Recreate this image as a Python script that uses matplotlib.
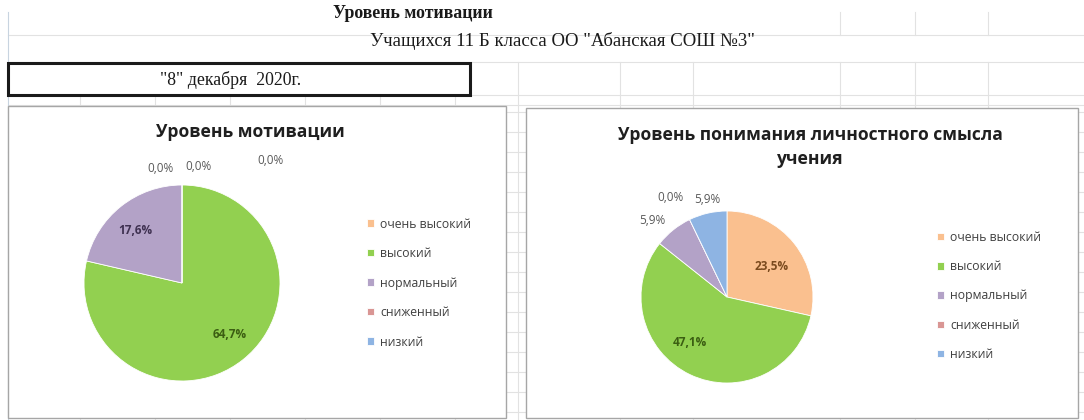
import matplotlib
matplotlib.use("Agg")
import matplotlib.pyplot as plt
from matplotlib.patches import Rectangle
from matplotlib.lines import Line2D

# ---------------- data ----------------
categories = ["очень высокий", "высокий", "нормальный", "сниженный", "низкий"]
motivation_values = [0.0, 64.7, 17.6, 0.0, 0.0]
meaning_values = [23.5, 47.1, 5.9, 0.0, 5.9]

sheet_title = "Уровень мотивации"
sheet_subtitle = "Учащихся 11 Б класса ОО \"Абанская СОШ №3\""
sheet_date = "\"8\" декабря  2020г."
chart1_title = "Уровень мотивации"
chart2_title = "Уровень понимания личностного смысла\nучения"

slice_colors = ["#FAC08F", "#92D050", "#B3A2C7", "#D99694", "#8EB4E3"]
inside_label_colors = ["#7A4A1E", "#3B5E12", "#3F3151", "#632523", "#17375E"]

W, H = 1084, 420
fig = plt.figure(figsize=(W / 100, H / 100), dpi=100)
fig.patch.set_facecolor("white")


def fx(x):
    return x / W


def fy(y):
    return 1 - y / H


def hline(x0, x1, y, color="#e2e2e2", lw=0.8, z=0):
    fig.add_artist(Line2D([fx(x0), fx(x1)], [fy(y), fy(y)], color=color, lw=lw, zorder=z))


def vline(x, y0, y1, color="#e2e2e2", lw=0.8, z=0):
    fig.add_artist(Line2D([fx(x), fx(x)], [fy(y0), fy(y1)], color=color, lw=lw, zorder=z))


# ---------------- spreadsheet grid ----------------
for y in [35, 62, 95, 105]:
    hline(8, W, y)
for y in range(112, 420, 20):
    hline(8, W, y)
vline(8, 12, 420, color="#c8d4e0")
for x in [840, 915, 988]:
    vline(x, 12, 35)
for x in [80, 155, 230, 305, 380, 455]:
    vline(x, 95, 420)
for x in [518, 620, 693, 840, 915, 988]:
    vline(x, 62, 420)

# header texts
serif = ["Liberation Serif", "DejaVu Serif"]
fig.text(fx(413), fy(14), sheet_title, family=serif, fontsize=12.8, fontweight="bold",
         ha="center", va="center", color="#1a1a1a")
fig.text(fx(562), fy(41), sheet_subtitle, family=serif, fontsize=13.5,
         ha="center", va="center", color="#1a1a1a")
fig.add_artist(Rectangle((fx(8), fy(95)), fx(470) - fx(8), fy(63) - fy(95),
                         transform=fig.transFigure, facecolor="white",
                         edgecolor="#1a1a1a", lw=2.2, zorder=2))
fig.text(fx(231), fy(80), sheet_date, family=serif, fontsize=12.8,
         ha="center", va="center", color="#1a1a1a", zorder=3)

# chart boxes
for (x0, y0, x1, y1) in [(8, 106, 506, 418), (526, 108, 1078, 418)]:
    fig.add_artist(Rectangle((fx(x0), fy(y1)), fx(x1) - fx(x0), fy(y0) - fy(y1),
                             transform=fig.transFigure, facecolor="white",
                             edgecolor="#a6a6a6", lw=1.0, zorder=2))

sans = ["Open Sans", "DejaVu Sans"]


def fmt(v):
    return f"{v:.1f}%".replace(".", ",")


def draw_pie(values, cx, cy, r, label_px, inside, title, title_xy, legend_xy, spacing):
    ax = fig.add_axes([fx(cx - r), fy(cy + r), 2 * r / W, 2 * r / H], zorder=5)
    wedges, _ = ax.pie(values, colors=slice_colors, startangle=90, counterclock=False,
                       radius=1, wedgeprops=dict(edgecolor="white", linewidth=0.6))
    ax.set_xlim(-1, 1)
    ax.set_ylim(-1, 1)
    ax.set_aspect("equal")
    ax.axis("off")
    for i, v in enumerate(values):
        px, py = label_px[i]
        col = inside_label_colors[i] if inside[i] else "#595959"
        ax.text((px - cx) / r, -(py - cy) / r, fmt(v), ha="center", va="center",
                fontsize=8.5, fontweight="bold" if inside[i] else "normal",
                color=col, family=sans, clip_on=False)
    fig.text(fx(title_xy[0]), fy(title_xy[1]), title, ha="center", va="center",
             fontsize=12.6, fontweight="bold", color="#1f1f1f", family=sans,
             linespacing=1.4, zorder=6)
    leg = fig.legend(wedges, categories, loc="center left",
                     bbox_to_anchor=(fx(legend_xy[0]), fy(legend_xy[1])),
                     frameon=False, prop=dict(family=sans, size=8.8),
                     handlelength=0.55, handleheight=0.55, handletextpad=0.55,
                     labelspacing=spacing, borderaxespad=0)
    for t in leg.get_texts():
        t.set_color("#404040")
    leg.set_zorder(6)


draw_pie(motivation_values, 182, 283, 98,
         [(270, 160), (230, 335), (135, 230), (160, 169), (198, 166)],
         [False, True, True, False, False],
         chart1_title, (250, 132), (362, 283), 1.35)

draw_pie(meaning_values, 727, 297, 86,
         [(772, 266), (690, 343), (652, 220), (670, 197), (707, 199)],
         [True, True, False, False, False],
         chart2_title, (810, 147), (932, 296), 1.33)

fig.savefig("out.png", dpi=100, facecolor="white")
